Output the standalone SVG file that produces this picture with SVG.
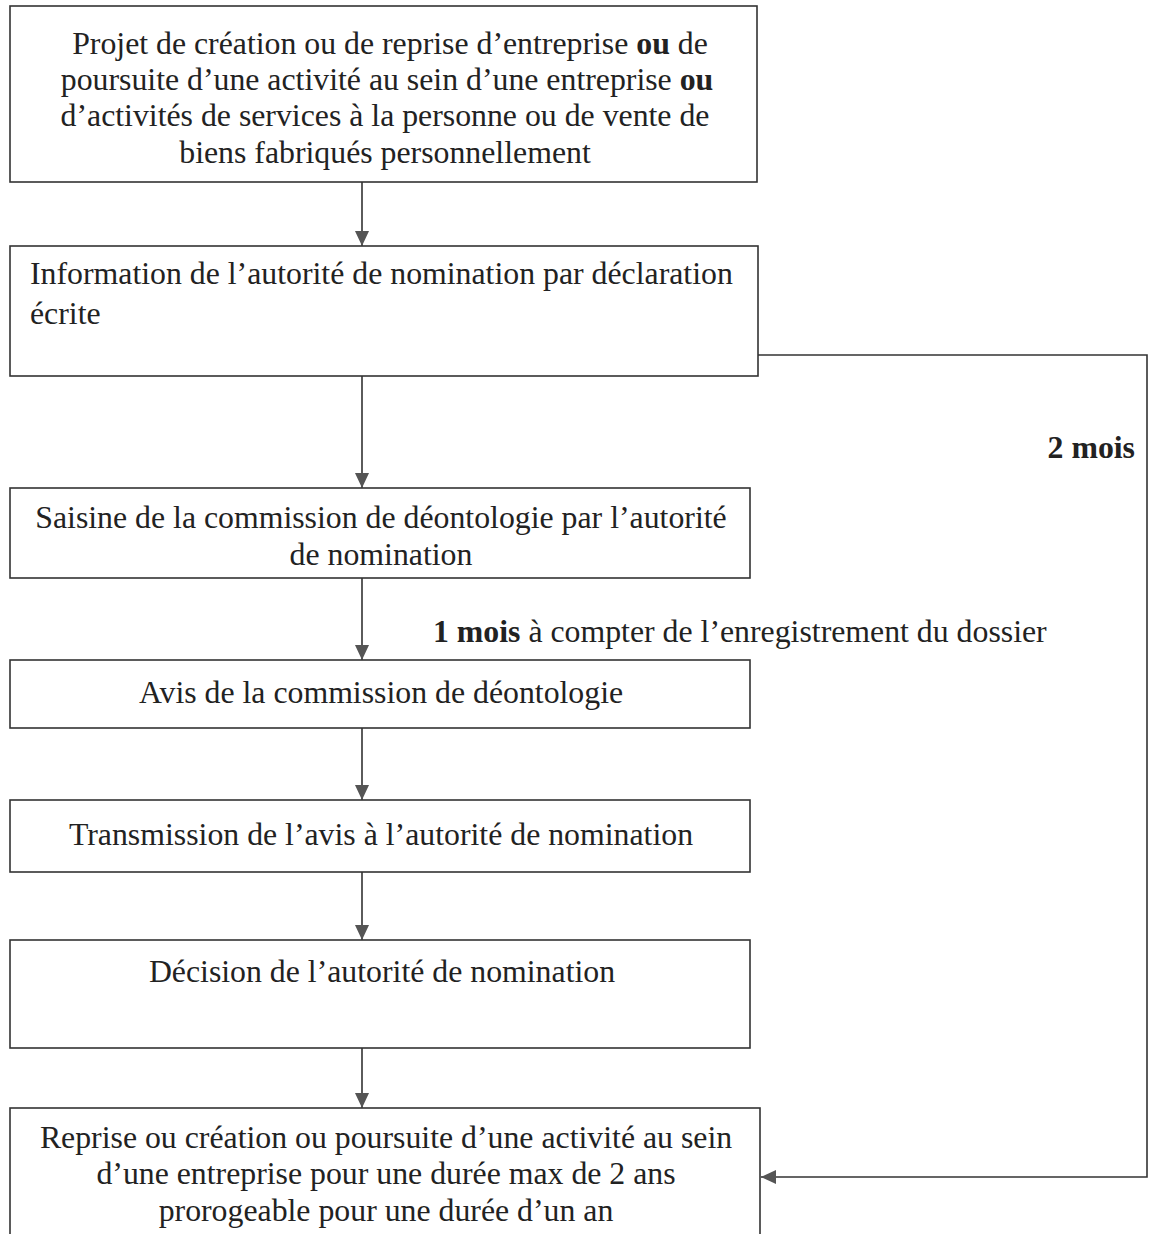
<svg xmlns="http://www.w3.org/2000/svg" width="1150" height="1234" viewBox="0 0 1150 1234">
<defs>
<style>
.box{fill:#fff;stroke:#333;stroke-width:1.6}
text{font-family:'Liberation Serif','Times New Roman',Times,serif;font-size:31.8px;fill:#222}
.c{text-anchor:middle}
.b{font-weight:bold}
.ln{fill:none;stroke:#333;stroke-width:1.6}
</style>
<marker id="ah" markerUnits="userSpaceOnUse" markerWidth="16" markerHeight="14" refX="15" refY="7" orient="auto" viewBox="0 0 16 14">
<path d="M0,0 L15,7 L0,14 Z" fill="#555"/>
</marker>
</defs>
<rect width="1150" height="1234" fill="#fff"/>

<g id="n1">
<rect class="box" x="10" y="6" width="747" height="176"/>
<text class="c" x="390" y="54">Projet de création ou de reprise d’entreprise <tspan class="b">ou</tspan> de</text>
<text class="c" x="387" y="90">poursuite d’une activité au sein d’une entreprise <tspan class="b">ou</tspan></text>
<text class="c" x="385" y="126">d’activités de services à la personne ou de vente de</text>
<text class="c" x="385" y="163">biens fabriqués personnellement</text>
</g>

<g id="n2">
<rect class="box" x="10" y="246" width="748" height="130"/>
<text x="30" y="284">Information de l’autorité de nomination par déclaration</text>
<text x="30" y="324">écrite</text>
</g>

<g id="n3">
<rect class="box" x="10" y="488" width="740" height="90"/>
<text class="c" x="381" y="528">Saisine de la commission de déontologie par l’autorité</text>
<text class="c" x="381" y="565">de nomination</text>
</g>

<g id="n4">
<rect class="box" x="10" y="660" width="740" height="68"/>
<text class="c" x="381" y="703">Avis de la commission de déontologie</text>
</g>

<g id="n5">
<rect class="box" x="10" y="800" width="740" height="72"/>
<text class="c" x="381" y="845">Transmission de l’avis à l’autorité de nomination</text>
</g>

<g id="n6">
<rect class="box" x="10" y="940" width="740" height="108"/>
<text class="c" x="382" y="982">Décision de l’autorité de nomination</text>
</g>

<g id="n7">
<rect class="box" x="10" y="1108" width="750" height="140"/>
<text class="c" x="386" y="1148">Reprise ou création ou poursuite d’une activité au sein</text>
<text class="c" x="386" y="1184">d’une entreprise pour une durée max de 2 ans</text>
<text class="c" x="386" y="1221">prorogeable pour une durée d’un an</text>
</g>

<g id="connectors">
<line class="ln" x1="362" y1="182" x2="362" y2="246" marker-end="url(#ah)"/>
<line class="ln" x1="362" y1="376" x2="362" y2="488" marker-end="url(#ah)"/>
<line class="ln" x1="362" y1="578" x2="362" y2="660" marker-end="url(#ah)"/>
<line class="ln" x1="362" y1="728" x2="362" y2="800" marker-end="url(#ah)"/>
<line class="ln" x1="362" y1="872" x2="362" y2="940" marker-end="url(#ah)"/>
<line class="ln" x1="362" y1="1048" x2="362" y2="1108" marker-end="url(#ah)"/>
<polyline class="ln" points="758,355 1147,355 1147,1177 761,1177" marker-end="url(#ah)"/>
<text class="b" x="1135" y="458" text-anchor="end">2 mois</text>
<text x="433" y="642"><tspan class="b">1 mois</tspan> à compter de l’enregistrement du dossier</text>
</g>
</svg>
